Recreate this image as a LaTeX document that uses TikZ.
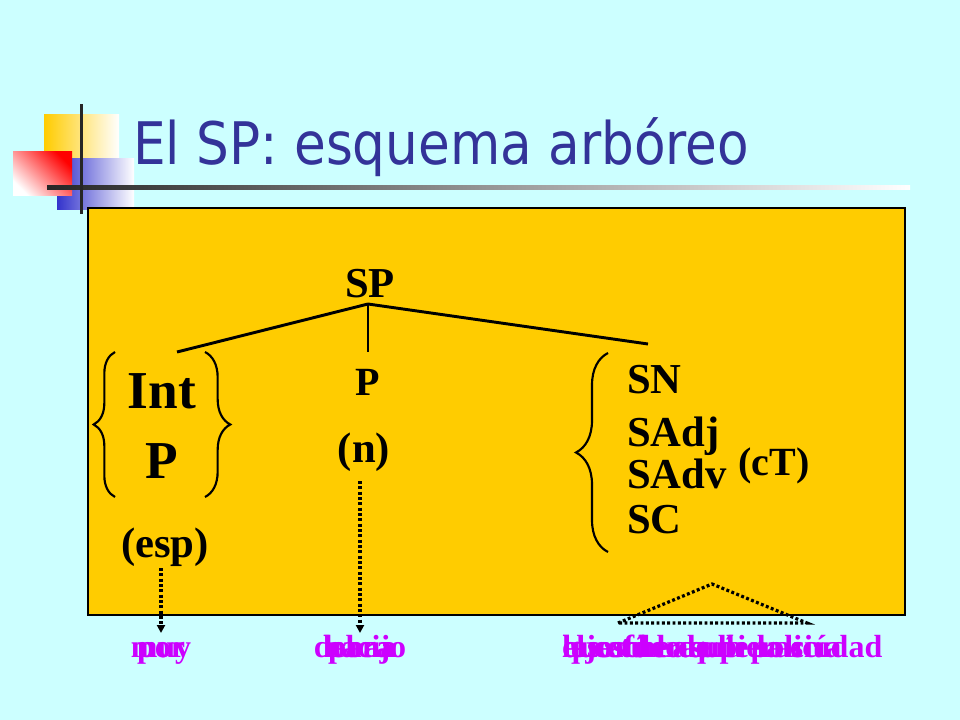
\documentclass[tikz,border=0pt]{standalone}
\usepackage{fontspec}
\setmainfont{Liberation Serif}
\newfontfamily\titlefont[FakeStretch=0.88]{DejaVu Sans}
\usetikzlibrary{arrows.meta,decorations.pathreplacing}

\definecolor{bgcyan}{RGB}{204,255,255}
\definecolor{boxorange}{RGB}{255,204,0}
\definecolor{titleblue}{RGB}{51,51,153}
\definecolor{squareblue}{RGB}{51,51,204}
\definecolor{wordpink}{RGB}{204,0,255}

\begin{document}
\begin{tikzpicture}[x=0.75pt,y=-0.75pt]
    \tikzstyle{tree line}=[line width=2.2pt]
    \tikzstyle{cat}=[font=\bfseries\fontsize{32}{38}\selectfont, inner sep=0pt]
    \tikzstyle{small cat}=[cat, font=\bfseries\fontsize{30}{36}\selectfont]
    \tikzstyle{big cat}=[cat, font=\bfseries\fontsize{40}{48}\selectfont]
    \tikzstyle{word}=[font=\bfseries\fontsize{24}{29}\selectfont, text=wordpink, inner sep=0pt]
    \tikzstyle{brace line}=[line width=1.6pt, decorate]
    \tikzstyle{dots}=[line width=2.4pt, dash pattern=on 2.2pt off 1.8pt]
    \tikzstyle{dots arrow}=[dots, -{Triangle[width=6pt,length=6pt]}]

    % Slide background
    \fill[bgcyan] (0,0) rectangle (960,720);
    \useasboundingbox (0,0) rectangle (960,720);

    % Draw the squares in the corner
    \shade[left color=boxorange, right color=white] (44,115) rectangle (119,190);
    \shade[left color=squareblue, right color=white] (57,159) rectangle (134,210);
    \shade[top color=red, bottom color=white, shading angle=-45] (13,152) rectangle (72,196);
    \shade[left color=black!85, right color=white] (47,186) rectangle (910,190);
    \fill[black!85] (80,104) rectangle (83,214);

    % Title
    \node[anchor=base west, inner sep=0pt, text=titleblue,
          font=\titlefont\fontsize{44}{52}\selectfont] (title) at (133,165) {El SP: esquema arbóreo};

    % The box
    \draw[fill=boxorange, line width=1pt] (88,208) rectangle (905,615);

    % Draw the tree nodes
    \node[cat, anchor=base] (SP) at (370,297) {SP};
    \node[big cat, anchor=base] (Int) at (162,408) {Int};
    \node[big cat, anchor=base] (Pint) at (162,478) {P};
    \node[cat, anchor=base] (esp) at (165,557) {(esp)};
    \node[small cat, anchor=base] (P) at (368,395) {P};
    \node[cat, anchor=base] (n) at (364,462) {(n)};
    \node[cat, anchor=base west] (SN) at (627,393) {SN};
    \node[cat, anchor=base west] (SAdj) at (627,446) {SAdj};
    \node[cat, anchor=base west] (SAdv) at (627,488) {SAdv};
    \node[cat, anchor=base west] (SC) at (627,533) {SC};
    \node[small cat, anchor=base west] (cT) at (738,475) {(cT)};

    % Connect SP with its three branches
    \coordinate (top) at (368,304);
    \coordinate (left end) at (177,352);
    \coordinate (mid end) at (368,352);
    \coordinate (right end) at (648,344);
    \foreach \dest in {left end, mid end, right end}
        \draw[tree line] (top) -- (\dest);

    % Braces
    \draw[brace line, decoration={brace, amplitude=16pt}] (115,497) -- (115,352);
    \draw[brace line, decoration={brace, amplitude=19pt}] (205,352) -- (205,497);
    \draw[brace line, decoration={brace, amplitude=24pt}] (608,552) -- (608,353);

    % Dotted arrows and triangle
    \coordinate (esp tip) at (161,633);
    \coordinate (n tip) at (360,633);
    \draw[dots arrow] (161,568) -- (esp tip);
    \draw[dots arrow] (360,481) -- (n tip);
    \coordinate (tri top) at (712,584);
    \coordinate (tri left) at (618,623);
    \coordinate (tri right) at (807,623);
    \draw[dots] (tri left) -- (tri top) -- (tri right) -- cycle;

    % Examples, one on top of the other
    \foreach \w [count=\i] in {muy,por}
        \node[word, anchor=base] (wa-\i) at (161,657) {\w};
    \foreach \w [count=\i] in {debajo,para,hacia}
        \node[word, anchor=base] (wb-\i) at (360,657) {\w};
    \foreach \w [count=\i] in {el coche de la policía,las afueras de la ciudad,lejos de aquí,que tú lo supieras}
        \node[word, anchor=base west] (wc-\i) at (562,657) {\w};

\end{tikzpicture}
\end{document}
